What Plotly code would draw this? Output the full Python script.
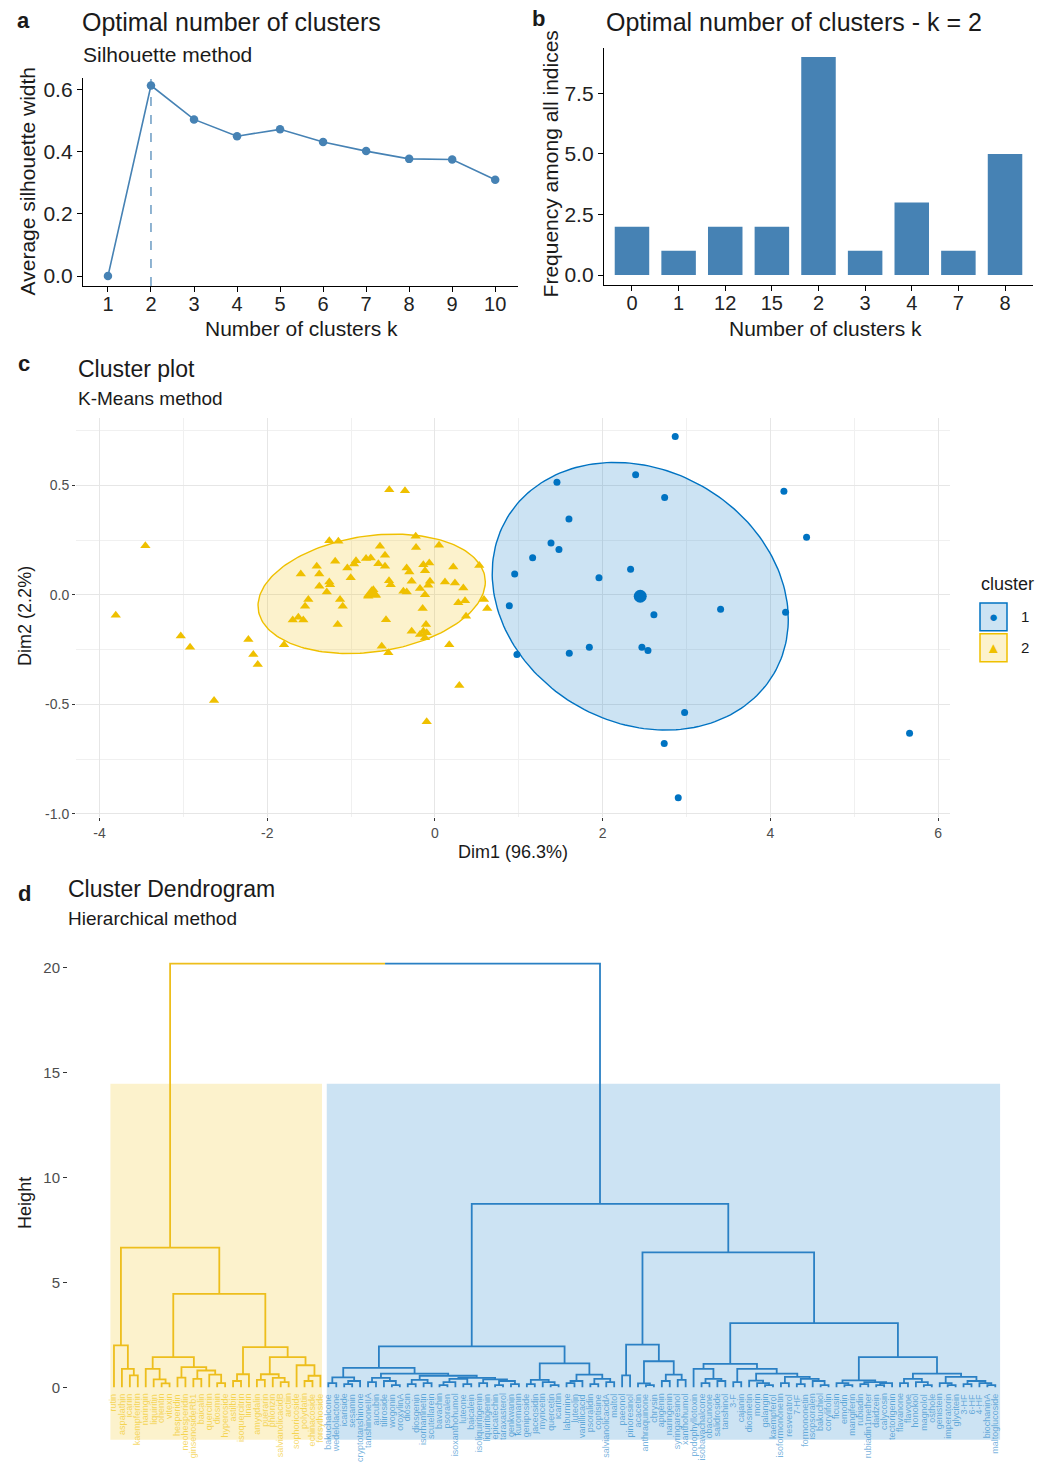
import numpy as np
import plotly.graph_objects as go

W, H = 1055, 1468
FONT = "Liberation Sans, Arial, sans-serif"
JCO_BLUE = "#0073C2"
JCO_YELLOW = "#EFC000"
STEEL = "#4682B4"
TXT = "#1a1a1a"
GREY = "#4d4d4d"


def px_x(p):
    return p / W


def px_y(p):
    return 1 - p / H


# ---------------- panel a: silhouette method ----------------
sil_k = [1, 2, 3, 4, 5, 6, 7, 8, 9, 10]
sil_width = [0.0, 0.613, 0.504, 0.450, 0.472, 0.431, 0.402, 0.377, 0.375, 0.310]
sil_yticks = [0.0, 0.2, 0.4, 0.6]

# ---------------- panel b: NbClust majority rule ----------------
nb_k_labels = ["0", "1", "12", "15", "2", "3", "4", "7", "8"]
nb_freq = [2, 1, 2, 2, 9, 1, 3, 1, 5]
nb_yticks = [0.0, 2.5, 5.0, 7.5]

# ---------------- panel c: k-means cluster plot ----------------
c1_dim1 = [2.864, 2.392, 1.454, 4.16, 2.738, 1.597, 4.43, 1.383, 1.478, 1.164,
           0.95, 2.332, 1.955, 0.886, 2.61, 3.405, 4.18, 0.977, 1.601, 1.84,
           2.467, 2.539, 2.976, 2.733, 5.658, 2.9]
c1_dim2 = [0.724, 0.549, 0.515, 0.473, 0.445, 0.347, 0.263, 0.237, 0.207, 0.170,
           0.096, 0.117, 0.078, -0.049, -0.09, -0.065, -0.079, -0.272, -0.266, -0.239,
           -0.239, -0.254, -0.537, -0.678, -0.632, -0.926]
c2_dim1 = [-3.453, -3.806, -3.031, -2.92, -2.225, -2.166, -2.113, -2.634, -0.545, -0.358,
           -0.099, 0.29, 0.17, -1.8, -1.26, -1.152, -0.23, -0.226, 0.048, -0.656,
           -0.596, -0.822, -0.766, -0.942, -0.965, -1.19, -1.41, -1.045, -0.675, -0.596,
           -0.338, -0.139, -0.068, -0.119, 0.218, 0.528, -1.6, -1.38, -1.005, -0.306,
           -0.278, -0.548, -0.528, -1.26, -1.251, -1.379, -0.06, -0.08, 0.119, 0.238,
           0.338, -0.179, -0.119, -1.29, -0.377, -0.337, -0.735, -0.795, -0.703, -1.132,
           -1.1, -1.51, -1.549, 0.278, 0.358, -0.147, 0.584, 0.623, -1.696, -1.629,
           -1.57, -0.584, -1.16, 0.37, -0.107, -0.139, -0.099, -0.278, -0.179, -0.119,
           -0.635, -0.556]
c2_dim2 = [0.225, -0.093, -0.188, -0.239, -0.204, -0.272, -0.318, -0.482, 0.48, 0.476,
           -0.579, -0.414, -0.227, -0.227, 0.248, 0.245, 0.268, 0.217, 0.227, 0.222,
           0.181, 0.166, 0.169, 0.156, 0.141, 0.154, 0.131, 0.123, 0.143, 0.131,
           0.123, 0.138, 0.146, 0.111, 0.128, 0.134, 0.096, 0.096, 0.078, 0.105,
           0.062, 0.065, 0.047, 0.059, 0.047, 0.04, 0.062, 0.044, 0.059, 0.055,
           0.032, 0.029, 0.001, 0.014, 0.017, 0.014, 0.024, -0.006, -0.001, -0.021,
           -0.052, -0.021, -0.052, -0.036, -0.026, -0.062, -0.021, -0.062, -0.115, -0.102,
           -0.115, -0.113, -0.135, -0.097, -0.135, -0.166, -0.173, -0.166, -0.181, -0.196,
           -0.234, -0.264]
center_dim1 = [2.447, -0.755]
center_dim2 = [-0.006, 0.005]
# concentration ellipses: centre plus two conjugate semi-diameters (u, v)
ellipse_u = [(1.765, -0.105), (1.355, 0.055)]
ellipse_v = [(0.0, 0.602), (0.0, 0.267)]
dim1_ticks = [-4, -2, 0, 2, 4, 6]
dim2_ticks = [-1.0, -0.5, 0.0, 0.5]
dim1_ticktext = ["-4", "-2", "0", "2", "4", "6"]
dim2_ticktext = ["-1.0", "-0.5", "0.0", "0.5"]

# ---------------- panel d: hierarchical clustering ----------------
leaf_labels = [
    "rutin", "aspalathin", "icariin", "kaempferitrin", "naringin", "liquiritin",
    "orientin", "vitexin", "hesperidin", "neohesperidin", "ginsenosideRb1", "baicalin",
    "quercitrin", "diosmin", "hyperoside", "astilbin", "isoquercitrin", "linarin",
    "amygdalin", "puerarin", "phlorizin", "salvianolicacidB", "arctiin", "sophoricoside",
    "polydatin", "echinacoside", "forsythoside",
    "bakuchalcone", "wedelolactone", "icariside", "sesamin", "cryptotanshinone",
    "tanshinoneIIA", "aucubin", "tiliroside", "wogonin", "oroxylinA", "dioscin",
    "diosgenin", "isorhamnetin", "scutellarein", "bavachin", "psoralen",
    "isoxanthohumol", "luteone", "baicalein", "isoliquiritigenin", "liquiritigenin",
    "epicatechin", "taraxasterol", "genkwanin", "kuromanin", "geniposide",
    "jaceosidin", "myricetin", "quercetin", "icaritin", "laburnine", "luteolin",
    "vanillicacid", "psoralidin", "coptisine", "salvianolicacidA", "maltol",
    "paeonol", "pinoresinol", "acacetin", "anthraquinone", "chrysin", "apigenin",
    "naringenin", "syringaresinol", "xanthohumol", "podophyllotoxin",
    "isobavachalcone", "obacunone", "salidroside", "tanshinol", "3-F", "cajanin",
    "diosmetin", "morin", "galangin", "kaempferol", "isoformononetin",
    "resveratrol", "7-HF", "formononetin", "isopsoralen", "bakuchiol",
    "corylifolin", "ficusin", "emodin", "mangiferin", "rubiadin",
    "rubiadin1mether", "daidzein", "calycosin", "tectorigenin", "flavanone",
    "flavone", "honokiol", "magnolol", "osthole", "genistein", "imperatorin",
    "glycitein", "3-HF", "6-HF", "4-HF", "biochaninA", "maltoglucoside",
]

# merge tree: [left, right, height]; integers are leaf indices
yellow_g1 = [0, [1, [2, 3, 0.57], 0.88], 2.00]
yellow_a1 = [4, [5, [6, 7, 0.19], 0.38], 0.88]
yellow_a2 = [[8, 9, 0.46], [[10, 11, 0.40], [12, [13, 14, 0.20], 0.60], 0.80], 0.96]
yellow_b1 = [[15, 16, 0.30], 17, 0.62]
yellow_b2a = [[18, 19, 0.35], [20, [21, 22, 0.25], 0.45], 0.62]
yellow_b2b = [23, [[24, 25, 0.30], 26, 0.55], 1.05]
yellow_tree = [yellow_g1,
               [[yellow_a1, yellow_a2, 1.44],
                [yellow_b1, [yellow_b2a, yellow_b2b, 1.44], 1.91], 4.45], 6.66]

blue_l1a = [[27, 28, 0.20], [[29, 30, 0.15], 31, 0.30], 0.47]
blue_l1b1 = [[32, 33, 0.25], [34, [35, 36, 0.10], 0.30], 0.45]
blue_x1 = [[37, 38, 0.15], [39, 40, 0.20], 0.35]
blue_x2 = [[[41, 42, 0.10], 43, 0.25], [44, 45, 0.15], 0.40]
blue_x3 = [[46, 47, 0.20], [[48, 49, 0.10], [50, 51, 0.15], 0.30], 0.38]
blue_l2a = [[52, 53, 0.15], [54, [55, 56, 0.10], 0.25], 0.35]
blue_l2b = [[[57, 58, 0.20], 59, 0.30], [[60, 61, 0.15], [62, 63, 0.25], 0.40], 0.60]
blue_r1 = [[64, 65, 0.57],
           [[66, [67, 68, 0.10], 0.19], [[69, 70, 0.30], [71, 72, 0.35], 0.60], 1.24], 2.03]
blue_r2a1 = [73, [[74, 75, 0.20], [76, 77, 0.30], 0.40], 0.88]
blue_r2a2 = [[78, 79, 0.25],
             [[80, [81, [82, 83, 0.10], 0.20], 0.32],
              [[84, 85, 0.20], [[86, 87, 0.15], [88, [89, 90, 0.10], 0.30], 0.40], 0.50],
              0.65], 0.88]
blue_q1 = [[91, [92, 93, 0.10], 0.20], [[94, 95, 0.15], [[96, 97, 0.10], 98, 0.20], 0.25], 0.33]
blue_q2 = [[[99, 100, 0.20], [101, [102, 103, 0.10], 0.25], 0.40],
           [[104, [105, 106, 0.10], 0.20], [[107, 108, 0.15], [109, [110, 111, 0.10], 0.20], 0.30], 0.50],
           0.65]
blue_tree = [[[blue_l1a, [blue_l1b1, [blue_x1, [blue_x2, blue_x3, 0.45], 0.55], 0.65], 0.92],
              [blue_l2a, blue_l2b, 1.14], 1.95],
             [blue_r1, [[blue_r2a1, blue_r2a2, 1.12], [blue_q1, blue_q2, 1.44], 3.06], 6.43],
             8.74]
root_height = 20.2
rect_bottom = -2.5
height_ticks = [0, 5, 10, 15, 20]

# ---------------- build figure ----------------
fig = go.Figure()

# a
fig.add_trace(go.Scatter(x=sil_k, y=sil_width, mode="lines+markers",
                         line=dict(color=STEEL, width=1.6),
                         marker=dict(color=STEEL, size=8.5),
                         xaxis="x", yaxis="y", showlegend=False))
best_k = sil_k[sil_width.index(max(sil_width))]

# b
fig.add_trace(go.Bar(x=nb_k_labels, y=nb_freq, width=0.74,
                     marker=dict(color=STEEL, line=dict(width=0)),
                     xaxis="x2", yaxis="y2", showlegend=False))

# c : ellipses
t = np.linspace(0, 2 * np.pi, 200)
ell_fill = ["rgba(0,115,194,0.2)", "rgba(239,192,0,0.2)"]
ell_line = [JCO_BLUE, JCO_YELLOW]
for i in range(2):
    cx, cy = center_dim1[i], center_dim2[i]
    ux, uy = ellipse_u[i]
    vx, vy = ellipse_v[i]
    ex = cx + ux * np.cos(t) + vx * np.sin(t)
    ey = cy + uy * np.cos(t) + vy * np.sin(t)
    fig.add_trace(go.Scatter(x=ex, y=ey, mode="lines", fill="toself",
                             fillcolor=ell_fill[i], line=dict(color=ell_line[i], width=1.4),
                             xaxis="x3", yaxis="y3", showlegend=False, hoverinfo="skip"))

fig.add_trace(go.Scatter(x=c2_dim1, y=c2_dim2, mode="markers",
                         marker=dict(symbol="triangle-up", color=JCO_YELLOW, size=9),
                         xaxis="x3", yaxis="y3", showlegend=False))
fig.add_trace(go.Scatter(x=c1_dim1, y=c1_dim2, mode="markers",
                         marker=dict(symbol="circle", color=JCO_BLUE, size=7),
                         xaxis="x3", yaxis="y3", showlegend=False))
fig.add_trace(go.Scatter(x=[center_dim1[0]], y=[center_dim2[0]], mode="markers",
                         marker=dict(symbol="circle", color=JCO_BLUE, size=13),
                         xaxis="x3", yaxis="y3", showlegend=False))
fig.add_trace(go.Scatter(x=[center_dim1[1]], y=[center_dim2[1]], mode="markers",
                         marker=dict(symbol="triangle-up", color=JCO_YELLOW, size=15),
                         xaxis="x3", yaxis="y3", showlegend=False))

# d : dendrogram layout (leaf order from traversal, node x = mean of children)
leaf_order = []
segs = {"y": ([], []), "b": ([], [])}


def place(node, key):
    if isinstance(node, int):
        leaf_order.append(node)
        return float(len(leaf_order) - 1), 0.0
    left, right, h = node
    xl, hl = place(left, key)
    xr, hr = place(right, key)
    xs, ys = segs[key]
    xs += [xl, xl, xr, xr, None]
    ys += [hl, h, h, hr, None]
    return (xl + xr) / 2, h


xy, hy = place(yellow_tree, "y")
n_yellow = len(leaf_order)
xb, hb = place(blue_tree, "b")
mid = (xy + xb) / 2
segs["y"][0].extend([xy, xy, mid, None])
segs["y"][1].extend([hy, root_height, root_height, None])
segs["b"][0].extend([mid, xb, xb, None])
segs["b"][1].extend([root_height, root_height, hb, None])

fig.add_trace(go.Scatter(x=segs["y"][0], y=segs["y"][1], mode="lines",
                         line=dict(color="#EDBE1C", width=1.8),
                         xaxis="x4", yaxis="y4", showlegend=False, hoverinfo="skip"))
fig.add_trace(go.Scatter(x=segs["b"][0], y=segs["b"][1], mode="lines",
                         line=dict(color="#2A80C4", width=1.8),
                         xaxis="x4", yaxis="y4", showlegend=False, hoverinfo="skip"))

n_leaves = len(leaf_order)
rect_top = (root_height + hb) / 2
shapes = [
    dict(type="line", xref="x", yref="y domain", x0=best_k, x1=best_k, y0=0, y1=1,
         line=dict(color=STEEL, width=1.2, dash="dash"), layer="below"),
    dict(type="rect", xref="x4", yref="y4", x0=-0.45, x1=n_yellow - 1 + 0.2,
         y0=rect_bottom, y1=rect_top, fillcolor="rgba(239,192,0,0.2)",
         line=dict(width=0), layer="below"),
    dict(type="rect", xref="x4", yref="y4", x0=n_yellow - 0.2, x1=n_leaves - 1 + 0.6,
         y0=rect_bottom, y1=rect_top, fillcolor="rgba(0,115,194,0.2)",
         line=dict(width=0), layer="below"),
]

# legend keys for panel c
shapes += [
    dict(type="rect", xref="paper", yref="paper", x0=px_x(980), x1=px_x(1007),
         y0=px_y(633), y1=px_y(605), fillcolor="rgba(0,115,194,0.2)",
         line=dict(color=JCO_BLUE, width=1.5)),
    dict(type="rect", xref="paper", yref="paper", x0=px_x(980), x1=px_x(1007),
         y0=px_y(664), y1=px_y(636), fillcolor="rgba(239,192,0,0.2)",
         line=dict(color=JCO_YELLOW, width=1.5)),
]

ann = []


def text(s, x, y, size, color=TXT, xanchor="left", bold=False, angle=0):
    ann.append(dict(text=f"<b>{s}</b>" if bold else s, x=px_x(x), y=px_y(y),
                    xref="paper", yref="paper", xanchor=xanchor, yanchor="middle",
                    showarrow=False, textangle=angle,
                    font=dict(family=FONT, size=size, color=color)))


text("a", 15, 21, 22, bold=True)
text("Optimal number of clusters", 80, 22, 25)
text("Silhouette method", 81, 55, 21)
text("Average silhouette width", 27, 182, 21, xanchor="center", angle=-90)
text("Number of clusters k", 301, 330, 21, xanchor="center")

text("b", 530, 19, 22, bold=True)
text("Optimal number of clusters - k = 2", 604, 22, 25)
text("Frequency among all indices", 550, 165, 21, xanchor="center", angle=-90)
text("Number of clusters k", 825, 330, 21, xanchor="center")

text("c", 16, 365, 22, bold=True)
text("Cluster plot", 76, 370, 23)
text("K-Means method", 76, 400, 19)
text("Dim1 (96.3%)", 513, 855, 18, xanchor="center")
text("Dim2 (2.2%)", 25, 618, 18, xanchor="center", angle=-90)
text("cluster", 1007, 586, 18, xanchor="center")
text("●", 993.5, 619, 15, color=JCO_BLUE, xanchor="center")
text("▲", 993.5, 650, 15, color=JCO_YELLOW, xanchor="center")
text("1", 1019, 619, 15)
text("2", 1019, 650, 15)

text("d", 16, 897, 22, bold=True)
text("Cluster Dendrogram", 66, 892, 23)
text("Hierarchical method", 66, 922, 19)
text("Height", 25, 1207, 18, xanchor="center", angle=-90)

for pos, leaf in enumerate(leaf_order):
    col = "rgba(239,192,0,0.6)" if pos < n_yellow else "rgba(0,115,194,0.55)"
    ann.append(dict(text=leaf_labels[leaf], x=pos, y=-0.2, xref="x4", yref="y4",
                    xanchor="center", yanchor="top", showarrow=False, textangle=-90,
                    font=dict(family=FONT, size=9, color=col)))

axis_common = dict(showgrid=False, zeroline=False, ticks="outside", tickcolor="black",
                   ticklen=5, tickwidth=1.2, showline=True, linecolor="black", linewidth=1.3)

fig.update_layout(
    width=W, height=H, margin=dict(l=0, r=0, t=0, b=0),
    paper_bgcolor="white", plot_bgcolor="white", showlegend=False,
    font=dict(family=FONT),
    xaxis=dict(domain=[px_x(83), px_x(518)], range=[0.42, 10.53], anchor="y",
               tickvals=sil_k, ticklabelstandoff=-5,
               tickfont=dict(family=FONT, size=20, color="#222"), **axis_common),
    yaxis=dict(domain=[px_y(287), px_y(78)], range=[-0.032, 0.638], anchor="x",
               tickvals=sil_yticks, tickformat=".1f",
               tickfont=dict(family=FONT, size=21, color="#222"), **axis_common),
    xaxis2=dict(domain=[px_x(604), px_x(1033)], range=[-0.6, 8.6], type="category",
                categoryorder="array", categoryarray=nb_k_labels, anchor="y2",
                ticklabelstandoff=-5,
                tickfont=dict(family=FONT, size=20, color="#222"), **axis_common),
    yaxis2=dict(domain=[px_y(286), px_y(48)], range=[-0.41, 9.38], anchor="x2",
                tickvals=nb_yticks, tickformat=".1f",
                tickfont=dict(family=FONT, size=21, color="#222"), **axis_common),
    xaxis3=dict(domain=[px_x(76), px_x(950)], range=[-4.28, 6.14], anchor="y3",
                tickvals=dim1_ticks, ticktext=dim1_ticktext,
                showgrid=True, gridcolor="#e6e6e6", gridwidth=1.2, zeroline=False,
                minor=dict(dtick=1, tick0=-5, showgrid=True, gridcolor="#f0f0f0", gridwidth=0.8),
                ticks="outside", ticklen=3, tickcolor="#333", showline=False,
                tickfont=dict(family=FONT, size=14, color=GREY)),
    yaxis3=dict(domain=[px_y(820), px_y(419)], range=[-1.015, 0.81], anchor="x3",
                tickvals=dim2_ticks, ticktext=dim2_ticktext,
                showgrid=True, gridcolor="#e6e6e6", gridwidth=1.2, zeroline=False,
                minor=dict(dtick=0.25, tick0=-0.75, showgrid=True, gridcolor="#f0f0f0", gridwidth=0.8),
                ticks="outside", ticklen=3, tickcolor="#333", showline=False,
                tickfont=dict(family=FONT, size=14, color=GREY)),
    xaxis4=dict(domain=[px_x(68), px_x(1010)], range=[-5.79, 112.85], anchor="y4",
                visible=False),
    yaxis4=dict(domain=[px_y(1468), px_y(950)], range=[-3.61, 21.0], anchor="x4",
                tickvals=height_ticks, showgrid=False, zeroline=False, showline=False,
                ticks="outside", ticklen=4, tickcolor="#333",
                tickfont=dict(family=FONT, size=15, color=GREY)),
    shapes=shapes,
    annotations=ann,
)

fig.write_html("out.html")
